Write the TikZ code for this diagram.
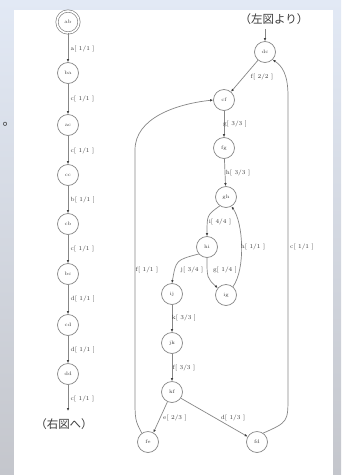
\documentclass[tikz,border=0pt]{standalone}
\usepackage{fontspec}
\newfontfamily\cjk{Noto Sans CJK JP}
\usetikzlibrary{arrows.meta}
\definecolor{bgtop}{RGB}{226,233,245}
\definecolor{bgbot}{RGB}{196,198,204}
\definecolor{lin}{RGB}{135,135,135}
\definecolor{txt}{RGB}{60,60,60}
\begin{document}
\begin{tikzpicture}[x=1pt,y=-1pt,
  st/.style={circle,draw=lin,line width=0.7pt,minimum size=21pt,inner sep=0pt,
    font=\fontsize{5}{5}\selectfont,text=txt},
  el/.style={font=\fontsize{6}{6}\selectfont,text=txt,inner sep=0.5pt},
  ed/.style={draw=lin,line width=0.7pt,-{Latex[length=3pt,width=2.6pt,color=black!75]}},
  jp/.style={font=\cjk\fontsize{11.5}{12}\selectfont,text=txt,inner sep=0pt}
]
\shade[top color=bgtop,bottom color=bgbot] (0,0) rectangle (341,475);
\fill[white] (14,10) rectangle (333,475);
\useasboundingbox (0,0) rectangle (341,475);

\node[font=\cjk\fontsize{13}{13}\selectfont,text=txt,inner sep=0pt] (dot) at (9,124) {。};

% left column
\node[st,double,double distance=1.6pt,minimum size=22pt] (ab) at (68,22) {ab};
\node[st] (ba) at (68,73) {ba};
\node[st] (ac) at (68,125) {ac};
\node[st] (cc) at (68,175) {cc};
\node[st] (cb) at (68,224) {cb};
\node[st] (bc) at (68,274) {bc};
\node[st] (cd) at (68,325) {cd};
\node[st] (dd) at (68,374) {dd};
\node[jp] (to) at (64,424) {（右図へ）};

\draw[ed] (ab) -- (ba);
\draw[ed] (ba) -- (ac);
\draw[ed] (ac) -- (cc);
\draw[ed] (cc) -- (cb);
\draw[ed] (cb) -- (bc);
\draw[ed] (bc) -- (cd);
\draw[ed] (cd) -- (dd);
\draw[ed] (dd) -- (68,411);

\node[el,anchor=west] (l1) at (70,49) {a[ 1/1 ]};
\node[el,anchor=west] (l2) at (70,99) {c[ 1/1 ]};
\node[el,anchor=west] (l3) at (70,151) {c[ 1/1 ]};
\node[el,anchor=west] (l4) at (70,200) {b[ 1/1 ]};
\node[el,anchor=west] (l5) at (70,249) {c[ 1/1 ]};
\node[el,anchor=west] (l6) at (70,299) {d[ 1/1 ]};
\node[el,anchor=west] (l7) at (70,350) {d[ 1/1 ]};
\node[el,anchor=west] (l8) at (70,399) {c[ 1/1 ]};

% right part
\node[jp] (from) at (274,19) {（左図より）};
\node[st] (dc) at (265,52) {dc};
\node[st] (cf) at (224,100) {cf};
\node[st] (fg) at (224,148) {fg};
\node[st] (gh) at (226,197) {gh};
\node[st] (hi) at (207,247) {hi};
\node[st] (ij) at (172,294) {ij};
\node[st] (ig) at (226,295) {ig};
\node[st] (jk) at (172,343) {jk};
\node[st] (kf) at (172,392) {kf};
\node[st] (fe) at (148,442) {fe};
\node[st] (fd) at (257,442) {fd};

\draw[ed] (265,29) -- (dc);
\draw[ed] (dc) -- (cf);
\draw[ed] (cf) -- (fg);
\draw[ed] (fg) -- (gh);
\draw[ed] (gh.235) .. controls (207,215) .. (hi.north);
\draw[ed] (hi.south) .. controls (207,278) .. (ig.140);
\draw[ed] (hi.220) .. controls (176,260) .. (ij.north);
\draw[ed] (ig.50) .. controls (246,268) and (243,222) .. (gh.300);
\draw[ed] (ij) -- (jk);
\draw[ed] (jk) -- (kf);
\draw[ed] (kf.245) -- (fe.60);
\draw[ed] (kf.-35) -- (fd.150);
\draw[ed] (fe.125) .. controls (135,420) .. (135,396) -- (135,150)
  .. controls (135,118) and (176,104) .. (cf.west);
\draw[ed] (fd.55) .. controls (288,422) .. (288,396) -- (288,96)
  .. controls (288,74) and (282,66) .. (dc.-45);

\node[el] (r1) at (262,77) {f[ 2/2 ]};
\node[el] (r2) at (235,124) {g[ 3/3 ]};
\node[el] (r3) at (238,173) {h[ 3/3 ]};
\node[el] (r4) at (220,222) {i[ 4/4 ]};
\node[el] (r5) at (253,247) {h[ 1/1 ]};
\node[el] (r6) at (192,270) {j[ 3/4 ]};
\node[el] (r7) at (225,270) {g[ 1/4 ]};
\node[el] (r8) at (147,270) {f[ 1/1 ]};
\node[el] (r9) at (302,247) {c[ 1/1 ]};
\node[el] (r10) at (184,318) {k[ 3/3 ]};
\node[el] (r11) at (184,368) {f[ 3/3 ]};
\node[el] (r12) at (175,418) {e[ 2/3 ]};
\node[el] (r13) at (233,418) {d[ 1/3 ]};
\end{tikzpicture}
\end{document}
